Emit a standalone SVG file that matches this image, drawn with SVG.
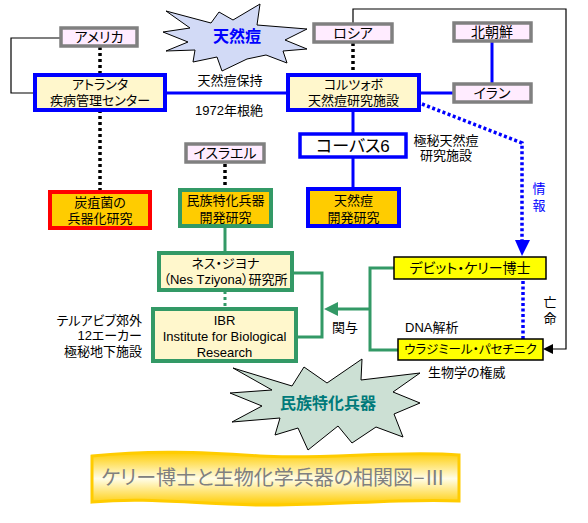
<svg xmlns="http://www.w3.org/2000/svg" width="588" height="523" viewBox="0 0 588 523">
<style>
text{font-family:"Liberation Sans","Noto Sans CJK JP",sans-serif;font-size:13px;fill:#000;text-anchor:middle;dominant-baseline:central;font-feature-settings:"palt"}
.country{fill:#ffecff;stroke:#808080;stroke-width:3.5}
.cty{font-size:14px}
.blue{fill:#fff7cc;stroke:#0000ff;stroke-width:4}
.orangeB{fill:#ffcc00;stroke:#0000ff;stroke-width:4}
.orangeG{fill:#ffcc00;stroke:#339966;stroke-width:4}
.lightG{fill:#fff7cc;stroke:#339966;stroke-width:4}
.yel{fill:#ffff00;stroke:#000;stroke-width:1.5}
.bl{stroke:#0000ff;stroke-width:3;fill:none}
.gl{stroke:#339966;stroke-width:3;fill:none}
.kdot{stroke:#000;stroke-width:3.5;stroke-dasharray:3,3;fill:none}
.bdot{stroke:#0000ff;stroke-width:3.5;stroke-dasharray:3,2.5;fill:none}
.thin{stroke:#000;stroke-width:1.2;fill:none}
.lt{text-anchor:start}
.rt{text-anchor:end}
</style>
<defs>
<linearGradient id="ban" x1="0" y1="0" x2="0" y2="1">
<stop offset="0" stop-color="#ffcc00"/>
<stop offset="0.5" stop-color="#fffde8"/>
<stop offset="1" stop-color="#ffcc00"/>
</linearGradient>
</defs>

<g id="connectors">
<polyline class="thin" points="61,38 11,38 11,93 35,93"/>
<polyline class="thin" points="353,24 353,9 566,9 566,349 553,349"/>
<polygon points="543,349 553,344 553,354" fill="#000"/>
<line class="kdot" x1="100" y1="47" x2="100" y2="75"/>
<line class="kdot" x1="100" y1="110" x2="100" y2="191"/>
<line class="kdot" x1="353" y1="43" x2="353" y2="75"/>
<line class="kdot" x1="225" y1="164" x2="225" y2="189"/>
<line class="bl" x1="165" y1="93" x2="288" y2="93"/>
<line class="bl" x1="419" y1="93" x2="454" y2="93"/>
<line class="bl" x1="492" y1="42" x2="492" y2="84"/>
<line class="bl" x1="353" y1="111" x2="353" y2="133"/>
<line class="bl" x1="353" y1="158" x2="353" y2="189"/>
<polyline class="bdot" points="422,104 522,143 522,242"/>
<polygon points="515,240 530,240 522,256" fill="#0000ff"/>
<line class="bdot" x1="523" y1="281" x2="523" y2="339"/>
<line class="gl" x1="225" y1="227" x2="225" y2="252"/>
<line x1="225" y1="291" x2="225" y2="308" stroke="#339966" stroke-width="3" stroke-dasharray="3,3"/>
<polyline class="gl" points="293,273 322,273 322,337 297,337"/>
<polyline class="gl" points="394,268 370,268 370,350 398,350"/>
<line class="gl" x1="370" y1="309" x2="336" y2="309"/>
<polygon points="324,309 338,302 338,316" fill="#339966"/>
</g>

<g id="star-smallpox">
<path d="M166,11 L211,23 L219,12 L233,20 L260,4 L257,25 L307,29 L285,40 L307,49 L283,51 L287,63 L266,55 L247,59 L222,71 L217,57 L193,62 L195,50 L166,51 L188,42 L163,32 L190,28 Z" fill="#d2daf6" stroke="#000" stroke-width="1"/>
<text x="237" y="36" style="font-size:16px;font-weight:bold;fill:#0000ff">天然痘</text>
</g>

<g id="star-ethnic">
<path d="M233,368 L292,386 L304,367 L327,383 L362,359 L361,380 L420,373 L393,392 L420,403 L394,414 L403,437 L376,427 L352,443 L338,426 L308,450 L298,428 L275,435 L280,418 L232,422 L262,406 L230,393 L272,390 Z" fill="#cce0d4" stroke="#000" stroke-width="1"/>
<text x="328" y="403" style="font-size:16px;font-weight:bold;fill:#007a7a">民族特化兵器</text>
</g>

<g id="usa">
<rect class="country" x="61" y="28" width="76" height="18"/>
<text class="cty" x="99" y="37">アメリカ</text>
</g>
<g id="russia">
<rect class="country" x="314" y="24" width="78" height="18"/>
<text class="cty" x="353" y="33">ロシア</text>
</g>
<g id="nkorea">
<rect class="country" x="454" y="23" width="77" height="18"/>
<text class="cty" x="492" y="32">北朝鮮</text>
</g>
<g id="iran">
<rect class="country" x="454" y="84" width="77" height="18"/>
<text class="cty" x="492" y="93">イラン</text>
</g>
<g id="israel">
<rect class="country" x="186" y="144" width="78" height="18"/>
<text class="cty" x="225" y="153">イスラエル</text>
</g>

<g id="cdc">
<rect class="blue" x="35" y="75" width="130" height="35"/>
<text x="100" y="84">アトランタ</text>
<text x="100" y="100">疾病管理センター</text>
</g>
<g id="koltsovo">
<rect class="blue" x="288" y="75" width="131" height="35"/>
<text x="353.5" y="84">コルツォボ</text>
<text x="353.5" y="100">天然痘研究施設</text>
</g>
<text x="230" y="80">天然痘保持</text>
<text x="229" y="110">1972年根絶</text>

<g id="vector">
<rect x="300" y="134" width="106" height="23" fill="#fff" stroke="#0000ff" stroke-width="3.5"/>
<text x="353" y="146" style="font-size:17px">コーバス6</text>
</g>
<text x="446" y="140">極秘天然痘</text>
<text x="446" y="155">研究施設</text>

<g id="anthrax">
<rect x="50" y="192" width="100" height="36" fill="#ffcc00" stroke="#ff0000" stroke-width="4"/>
<text x="100" y="202">炭疽菌の</text>
<text x="100" y="218">兵器化研究</text>
</g>
<g id="ethnic-research">
<rect class="orangeG" x="180" y="190" width="91" height="36"/>
<text x="225.5" y="200">民族特化兵器</text>
<text x="225.5" y="217">開発研究</text>
</g>
<g id="smallpox-research">
<rect class="orangeB" x="308" y="189" width="91" height="37"/>
<text x="353.5" y="200">天然痘</text>
<text x="353.5" y="217">開発研究</text>
</g>

<g id="nes">
<rect class="lightG" x="159" y="253" width="133" height="37"/>
<text x="225.5" y="263">ネス・ジヨナ</text>
<text x="225.5" y="279">（Nes Tziyona）研究所</text>
</g>
<g id="ibr">
<rect class="lightG" x="153" y="309" width="143" height="52"/>
<text x="224.5" y="320">IBR</text>
<text x="224.5" y="336">Institute for Biological</text>
<text x="224.5" y="352">Research</text>
</g>
<text class="rt" x="142" y="320">テルアビブ郊外</text>
<text class="rt" x="142" y="335">12エーカー</text>
<text class="rt" x="142" y="351">極秘地下施設</text>

<g id="kelly">
<rect class="yel" x="394" y="257" width="152" height="22"/>
<text x="470" y="268" style="font-size:14px">デビット・ケリー博士</text>
</g>
<g id="pasechnik">
<rect class="yel" x="398" y="339" width="145" height="21"/>
<text x="470.5" y="350" style="font-size:12.5px">ウラジミール・パセチニク</text>
</g>
<text x="345" y="327">関与</text>
<text class="lt" x="405" y="327">DNA解析</text>
<text class="lt" x="428" y="372">生物学の権威</text>
<text x="550" y="302">亡</text>
<text x="550" y="318">命</text>
<text x="539" y="188" style="fill:#0000ff">情</text>
<text x="539" y="205" style="fill:#0000ff">報</text>

<g id="title">
<path d="M92,456 C150,450 200,452 260,456 S400,450 459,455 L459,501 C400,498 330,506 260,505 S150,497 92,502 Z" fill="url(#ban)" stroke="#ffcc00" stroke-width="3"/>
<text x="273" y="478" style="font-size:20px;fill:#808080">ケリー博士と生物化学兵器の相関図−Ⅲ</text>
</g>
</svg>
